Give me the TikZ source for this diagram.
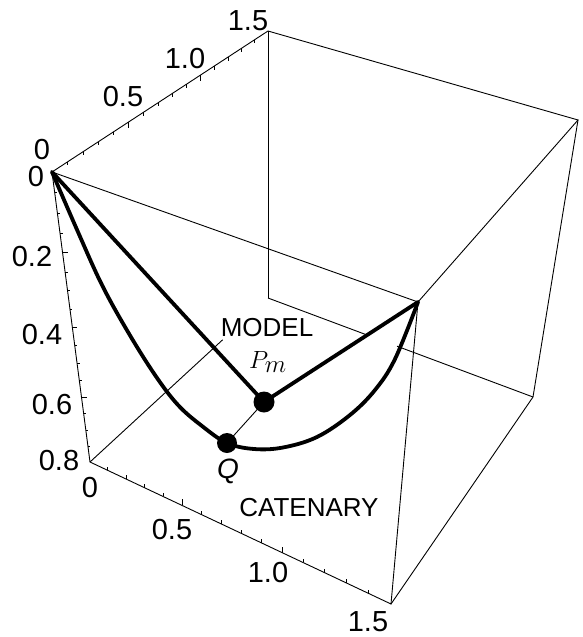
\documentclass[tikz,border=0pt]{standalone}
\usepackage{fontspec}
\setmainfont{Liberation Sans}
\usetikzlibrary{calc}
\tikzset{
  edge/.style={line width=0.9pt, black},
  curve/.style={line width=3.8pt, line join=round, line cap=round},
  tickmark/.style={line width=0.7pt},
  axlab/.style={font=\fontsize{29}{29}\selectfont, inner sep=0pt},
  txt/.style={font=\fontsize{26}{26}\selectfont, inner sep=0pt},
  dot/.style={circle, fill=black, minimum size=21pt, inner sep=0pt},
}
\begin{document}
\begin{tikzpicture}[x=1pt,y=-1pt]
\path[use as bounding box] (0,0) rectangle (583,637);
% box corners
\coordinate (O) at (52,172);
\coordinate (Y) at (268,31);
\coordinate (X) at (418,302);
\coordinate (XY) at (578,120);
\coordinate (Z) at (90,462);
\coordinate (YZ) at (268,298);
\coordinate (XZ) at (391,604);
\coordinate (XYZ) at (533,397);
% box edges
\draw[edge] (O) -- (Y) -- (XY) -- (X) -- cycle;
\draw[edge] (O) -- (Z) -- (XZ) -- (X);
\draw[edge] (Y) -- (YZ);
\draw[edge] (XY) -- (XYZ) -- (XZ);
\coordinate (zy1) at ($(Z)!0.745!(YZ)$);
\draw[edge] (Z) -- (zy1);
\coordinate (bk1) at ($(YZ)!0.374!(XYZ)$);
\coordinate (bk2) at ($(YZ)!0.487!(XYZ)$);
\draw[edge] (YZ) -- (bk1);
\draw[edge] (bk2) -- (XYZ);
% ticks on y axis (top-left edge)
\foreach \i in {1,...,14} {
  \pgfmathsetmacro\tt{1.1*(\i/15)/(1+0.1*(\i/15))}
  \pgfmathsetmacro\len{ifthenelse(mod(\i,5)==0,6,3.5)}
  \draw[tickmark] ($(O)!\tt!(Y)$) -- ++(0,\len);
}
% ticks on x axis (bottom front edge)
\foreach \i in {1,...,14} {
  \pgfmathsetmacro\tt{0.88*(\i/15)/(1-0.12*(\i/15))}
  \pgfmathsetmacro\len{ifthenelse(mod(\i,5)==0,6,3.5)}
  \draw[tickmark] ($(Z)!\tt!(XZ)$) -- ++(0,-\len);
}
% ticks on z axis (left vertical edge)
\foreach \i in {1,...,15} {
  \pgfmathsetmacro\tt{1.157*(\i/16)/(1+0.157*(\i/16))}
  \pgfmathsetmacro\len{ifthenelse(mod(\i,4)==0,5,2.5)}
  \draw[tickmark] ($(O)!\tt!(Z)$) -- ++(\len,0);
}
% points
\coordinate (pm) at (264,402);
\coordinate (q) at (227,443);
\draw[edge] (q) -- (pm);
% model
\draw[curve] (O) -- (pm) -- (X);
% catenary
\draw[curve] plot[smooth, tension=0.6] coordinates {(O) (78,232) (102,285) (128,332) (155,375) (178,405) (202,426) (q) (254,449) (283,447.5) (317,437) (350,415) (375,390) (395,359) (X)};
\node[dot] (Pmdot) at (pm) {};
\node[dot, minimum size=20pt] (Qdot) at (q) {};
% labels
\node[txt] (model) at (267,328) {MODEL};
\node[txt] (cat) at (309,508) {CATENARY};
\node[inner sep=0pt, font=\fontsize{38}{38}\selectfont] (pmlab) at (268,362) {$P_m$};
\node[inner sep=0pt, font=\fontsize{28}{28}\selectfont\itshape] (qlab) at (228,471) {Q};
% y axis labels
\node[axlab] (y0) at (42,150) {0};
\node[axlab] (y05) at (123,97) {0.5};
\node[axlab] (y10) at (185,59) {1.0};
\node[axlab] (y15) at (248,21) {1.5};
% z axis labels
\node[axlab] (z0) at (36,177) {0};
\node[axlab] (z02) at (32,257) {0.2};
\node[axlab] (z04) at (42,335) {0.4};
\node[axlab] (z06) at (52,405) {0.6};
\node[axlab] (z08) at (59,461) {0.8};
% x axis labels
\node[axlab] (x0) at (90,488) {0};
\node[axlab] (x05) at (172,530) {0.5};
\node[axlab] (x10) at (268,573) {1.0};
\node[axlab] (x15) at (368,622) {1.5};
\end{tikzpicture}
\end{document}
